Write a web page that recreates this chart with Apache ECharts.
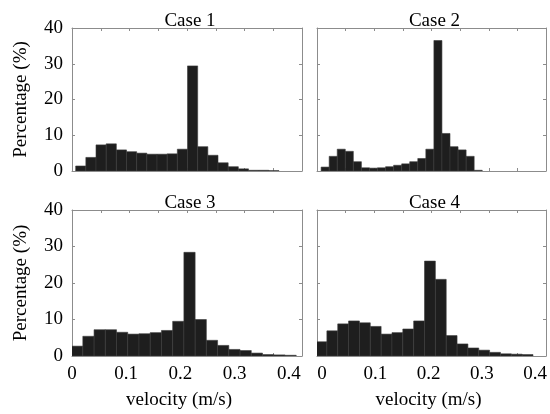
<!DOCTYPE html>
<html>
<head>
<meta charset="utf-8">
<script src="https://cdn.jsdelivr.net/npm/echarts@6/dist/echarts.min.js"></script>
<style>
html,body{margin:0;padding:0;background:#fff;}
#chart{width:550px;height:414px;}
</style>
</head>
<body>
<div id="chart"></div>
<script>
// ---- data ----
const caseTitles = ['Case 1', 'Case 2', 'Case 3', 'Case 4'];
const xTickValues = [0, 0.1, 0.2, 0.3, 0.4];
const xTickLabels = ['0', '0.1', '0.2', '0.3', '0.4'];
const yTickLabels = ['0', '10', '20', '30', '40'];
// histogram bins: first bin left edge (m/s) and bin width (m/s)
const case1BinStart = 0.0064, case1BinWidth = 0.01768;
const case2BinStart = 0.0072, case2BinWidth = 0.01407;
const case3BinStart = -0.0007, case3BinWidth = 0.01953;
const case4BinStart = -0.0017, case4BinWidth = 0.01895;
// percentages (%)
const case1Values = [1.4, 3.8, 7.3, 7.6, 5.9, 5.4, 5.0, 4.7, 4.7, 4.8, 6.1, 29.4, 6.8, 4.4, 2.3, 1.2, 0.6, 0.2, 0.2, 0.1];
const case2Values = [1.1, 4.1, 6.1, 5.5, 2.6, 0.9, 0.8, 0.9, 1.2, 1.6, 2.0, 2.6, 3.5, 6.1, 36.5, 10.5, 6.8, 5.9, 4.1, 0.2];
const case3Values = [2.7, 5.4, 7.2, 7.2, 6.5, 6.0, 6.1, 6.4, 7.0, 9.5, 28.4, 10.0, 4.3, 2.9, 1.8, 1.5, 0.8, 0.4, 0.3, 0.2];
const case4Values = [3.9, 6.9, 8.8, 9.6, 9.1, 8.1, 6.0, 6.4, 7.4, 9.6, 26.0, 21.0, 5.6, 3.3, 2.2, 1.6, 1.0, 0.6, 0.5, 0.4];
const xAxisTitle = 'velocity (m/s)';
const yAxisTitle = 'Percentage (%)';

// ---- layout ----
const FONT = '"Liberation Serif", "Times New Roman", serif';
const FS = 19;
const AX = '#8c8c8c';
const grids = [
  {left: 72, top: 28, width: 230, height: 143},
  {left: 317, top: 28, width: 229, height: 143},
  {left: 72, top: 210, width: 230, height: 146},
  {left: 317, top: 210, width: 229, height: 146}
];
// extent of the tick-label axis (labels in the source sit slightly inside the box)
const labelAxisRange = [[0, 0.424], [-0.0094, 0.4206], [0, 0.424], [-0.0094, 0.4206]];
const namePad = [16, 6, 16, 6];
const binStarts = [case1BinStart, case2BinStart, case3BinStart, case4BinStart];
const binWidths = [case1BinWidth, case2BinWidth, case3BinWidth, case4BinWidth];
const values = [case1Values, case2Values, case3Values, case4Values];

function xLabel(v) {
  for (let k = 0; k < xTickValues.length; k++) {
    if (Math.abs(v - xTickValues[k]) < 1e-6) return xTickLabels[k];
  }
  return '';
}

const xAxes = [], yAxes = [], series = [], titles = [];
grids.forEach((g, i) => {
  const bottomRow = i >= 2, leftCol = (i % 2) === 0;
  const tickCommon = {show: true, inside: true, length: 3, lineStyle: {color: AX}};
  // box axes (bottom/top) carrying ticks
  xAxes.push({
    type: 'value', gridIndex: i, position: 'bottom', min: 0, max: 0.4, interval: 0.1,
    axisLine: {show: true, onZero: false, lineStyle: {color: AX}},
    axisTick: tickCommon,
    minorTick: {show: true, splitNumber: 2, length: 3, lineStyle: {color: AX}},
    splitLine: {show: false}, axisLabel: {show: false}
  });
  xAxes.push({
    type: 'value', gridIndex: i, position: 'top', min: 0, max: 0.4, interval: 0.1,
    axisLine: {show: true, onZero: false, lineStyle: {color: AX}},
    axisTick: tickCommon,
    minorTick: {show: true, splitNumber: 2, length: 3, lineStyle: {color: AX}},
    splitLine: {show: false}, axisLabel: {show: false}
  });
  // tick-label axis
  xAxes.push({
    type: 'value', gridIndex: i, position: 'bottom',
    min: labelAxisRange[i][0], max: labelAxisRange[i][1],
    axisLine: {show: false}, axisTick: {show: false}, splitLine: {show: false},
    axisLabel: {show: bottomRow, margin: 9, color: '#000', fontFamily: FONT, fontSize: FS,
      customValues: xTickValues, showMinLabel: true, showMaxLabel: true, formatter: xLabel},
    name: bottomRow ? xAxisTitle : '', nameLocation: 'middle', nameGap: 35,
    nameTextStyle: {color: '#000', fontFamily: FONT, fontSize: FS, padding: [0, namePad[i], 0, 0]}
  });
  yAxes.push({
    type: 'value', gridIndex: i, position: 'left', min: 0, max: 40, interval: 10,
    axisLine: {show: true, onZero: false, lineStyle: {color: AX}},
    axisTick: tickCommon, splitLine: {show: false},
    axisLabel: {show: leftCol, margin: 9, color: '#000', fontFamily: FONT, fontSize: FS,
      formatter: v => yTickLabels[Math.round(v / 10)]},
    name: leftCol ? yAxisTitle : '', nameLocation: 'middle', nameGap: 41,
    nameTextStyle: {color: '#000', fontFamily: FONT, fontSize: FS}
  });
  yAxes.push({
    type: 'value', gridIndex: i, position: 'right', min: 0, max: 40, interval: 10,
    axisLine: {show: true, onZero: false, lineStyle: {color: AX}},
    axisTick: tickCommon, splitLine: {show: false}, axisLabel: {show: false}
  });
  const st = binStarts[i], w = binWidths[i];
  series.push({
    type: 'custom', xAxisIndex: 3 * i, yAxisIndex: 2 * i, clip: true,
    data: values[i].map((v, k) => [st + k * w, st + (k + 1) * w, v]),
    encode: {x: [0, 1], y: 2},
    renderItem: (params, api) => {
      const p0 = api.coord([api.value(0), 0]);
      const p1 = api.coord([api.value(1), api.value(2)]);
      return {
        type: 'rect',
        shape: {x: p0[0], y: p1[1], width: p1[0] - p0[0], height: p0[1] - p1[1]},
        style: {fill: '#1e1e1e', stroke: '#3a3a3a', lineWidth: 0.6}
      };
    }
  });
  titles.push({
    text: caseTitles[i], left: g.left + g.width / 2 - 2, top: g.top - 21, textAlign: 'center',
    textStyle: {color: '#000', fontFamily: FONT, fontSize: FS, fontWeight: 'normal'}
  });
});

const chart = echarts.init(document.getElementById('chart'), null, {renderer: 'canvas'});
chart.setOption({
  animation: false,
  backgroundColor: '#fff',
  title: titles,
  grid: grids,
  xAxis: xAxes,
  yAxis: yAxes,
  series: series
});
</script>
</body>
</html>
